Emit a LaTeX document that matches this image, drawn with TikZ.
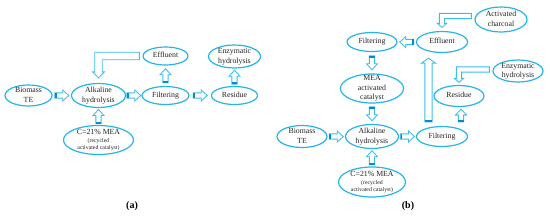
\documentclass[tikz,border=0pt]{standalone}
\usepackage{fontspec}
\setmainfont{Liberation Serif}
\usetikzlibrary{shapes.geometric,calc}
\definecolor{ellc}{RGB}{38,182,230}
\definecolor{arrc}{RGB}{60,190,232}
\definecolor{tailc}{RGB}{0,140,210}
\definecolor{txtc}{RGB}{35,35,35}
\newcommand\tx[1]{\makebox[0pt]{\raisebox{-2pt}[0pt][0pt]{\begin{tabular}{@{}c@{}}#1\end{tabular}}}}
% straight block arrow: #1 start, #2 tip, #3 shaft half width, #4 head half width, #5 head length
\newcommand\blockarrow[5]{%
  \coordinate (ba-t) at ($(#1)!1.8pt!(#2)$);
  \coordinate (ba-h) at ($(#2)!#5!(#1)$);
  \draw[arrowline] ($(#1)!#3!90:(#2)$) -- ($(ba-h)!#3!90:(#2)$) -- ($(ba-h)!#4!90:(#2)$) -- (#2)
    -- ($(ba-h)!#4!-90:(#2)$) -- ($(ba-h)!#3!-90:(#2)$) -- ($(#1)!#3!-90:(#2)$) -- cycle;
  \fill[tailc] ($(#1)!#3!90:(#2)$) -- ($(#1)!#3!-90:(#2)$) -- ($(ba-t)!#3!-90:(#2)$) -- ($(ba-t)!#3!90:(#2)$) -- cycle;
}
\newcommand\link[2]{%
  \coordinate (lk-m) at ($(#1)!0.5!(#2)$);
  \coordinate (lk-s) at ($(lk-m)!7pt!(#1)$);
  \coordinate (lk-e) at ($(lk-m)!7pt!(#2)$);
  \blockarrow{lk-s}{lk-e}{2.6pt}{5.5pt}{6pt}%
}
% L-shaped arrow: horizontal to the left from #1, then down to tip #2
\newcommand\Larrow[5]{%
  \draw[arrowline] let \p1=(#1), \p2=(#2) in
    (\x1,\y1+#3) -- (\x2-#3,\y1+#3) -- (\x2-#3,\y2+#5) -- (\x2-#4,\y2+#5) -- (\x2,\y2)
    -- (\x2+#4,\y2+#5) -- (\x2+#3,\y2+#5) -- (\x2+#3,\y1-#3) -- (\x1,\y1-#3) -- cycle;
}
\begin{document}
\begin{tikzpicture}[x=1pt,y=-1pt,
  ell/.style={ellipse, draw=ellc, line width=1.2pt, fill=white, inner sep=0pt, text=txtc,
    font=\fontsize{7.8}{9.5}\selectfont},
  arrowline/.style={draw=arrc, line width=0.85pt, fill=white, line join=miter},
  lab/.style={font=\bfseries\fontsize{10}{12}\selectfont, text=black, inner sep=0pt}]
\useasboundingbox (0,0) rectangle (550,217);
\fill[white] (0,0) rectangle (550,217);

% ---------- panel (a) ----------
\node[ell, minimum width=47pt, minimum height=21pt] (bio1) at (28.5,95.5) {\tx{Biomass\\TE}};
\node[ell, minimum width=54pt, minimum height=24pt] (alk1) at (98.5,95.5) {\tx{Alkaline\\hydrolysis}};
\node[ell, minimum width=47pt, minimum height=18pt] (filt1) at (165.5,95.5) {\tx{Filtering}};
\node[ell, minimum width=46pt, minimum height=18pt] (res1) at (234.5,95.5) {\tx{Residue}};
\node[ell, minimum width=45pt, minimum height=18pt] (eff1) at (165.5,56) {\tx{Effluent}};
\node[ell, minimum width=52pt, minimum height=23pt] (enz1) at (234.5,56.5) {\tx{Enzymatic\\hydrolysis}};
\node[ell, minimum width=70pt, minimum height=29pt] (mea1) at (98.5,140)
  {\tx{C=21\% MEA\\[-2pt]{\fontsize{5.8}{7}\selectfont (recycled}\\[-2.5pt]{\fontsize{5.8}{7}\selectfont activated catalyst)}}};

\link{bio1.east}{alk1.west}
\link{alk1.east}{filt1.west}
\link{filt1.east}{res1.west}
\link{filt1.north}{eff1.south}
\link{res1.north}{enz1.south}
\link{mea1.north}{alk1.south}
\coordinate (L1s) at ($(eff1.west)+(-3pt,0pt)$);
\coordinate (L1e) at ($(alk1.north)+(0pt,5pt)$);
\Larrow{L1s}{L1e}{3.7pt}{5.8pt}{6pt}

\node[lab] (la) at (132,206) {(a)};

% ---------- panel (b) ----------
\node[ell, minimum width=50pt, minimum height=22pt] (bio2) at (302,136.5) {\tx{Biomass\\TE}};
\node[ell, minimum width=53pt, minimum height=24pt] (alk2) at (372,136.5) {\tx{Alkaline\\hydrolysis}};
\node[ell, minimum width=51pt, minimum height=20pt] (filt2) at (442,136.5) {\tx{Filtering}};
\node[ell, minimum width=67pt, minimum height=30pt] (c2) at (372,182)
  {\tx{C=21\% MEA\\[-2pt]{\fontsize{5.8}{7}\selectfont (recycled}\\[-2.5pt]{\fontsize{5.8}{7}\selectfont activated catalyst)}}};
\node[ell, minimum width=63pt, minimum height=29pt] (mea2) at (372,88.5) {\tx{MEA\\activated\\catalyst}};
\node[ell, minimum width=50pt, minimum height=19pt] (filtT) at (372,42) {\tx{Filtering}};
\node[ell, minimum width=51pt, minimum height=21pt] (eff2) at (442,42) {\tx{Effluent}};
\node[ell, minimum width=52pt, minimum height=25pt] (char) at (501,19.5) {\tx{Activated\\charcoal}};
\node[ell, minimum width=50pt, minimum height=22pt] (enz2) at (518,71) {\tx{Enzymatic\\hydrolysis}};
\node[ell, minimum width=50pt, minimum height=21pt] (res2) at (459,96) {\tx{Residue}};

\link{bio2.east}{alk2.west}
\link{alk2.east}{filt2.west}
\link{c2.north}{alk2.south}
\link{mea2.south}{alk2.north}
\link{filtT.south}{mea2.north}
\link{eff2.west}{filtT.east}
\coordinate (ls) at ($(filt2.north)+(-13.5pt,4pt)$);
\coordinate (le) at ($(eff2.south)+(-13.5pt,-5pt)$);
\blockarrow{ls}{le}{3.6pt}{7pt}{5pt}
\coordinate (rs) at ($(res2.south |- filt2.north)+(2pt,4pt)$);
\coordinate (re) at ($(res2.south)+(2pt,-2pt)$);
\blockarrow{rs}{re}{2.6pt}{5.5pt}{6pt}
\coordinate (L2s) at ($(char.west)+(-3pt,3.5pt)$);
\coordinate (L2e) at ($(eff2.north)+(0pt,3.5pt)$);
\Larrow{L2s}{L2e}{2.6pt}{4.6pt}{4pt}
\coordinate (L3s) at ($(enz2.west)+(-3pt,1.5pt)$);
\coordinate (L3e) at ($(res2.north)+(0pt,2.5pt)$);
\Larrow{L3s}{L3e}{2.6pt}{4.6pt}{4pt}

\node[lab] (lb) at (408,206) {(b)};
\end{tikzpicture}
\end{document}
